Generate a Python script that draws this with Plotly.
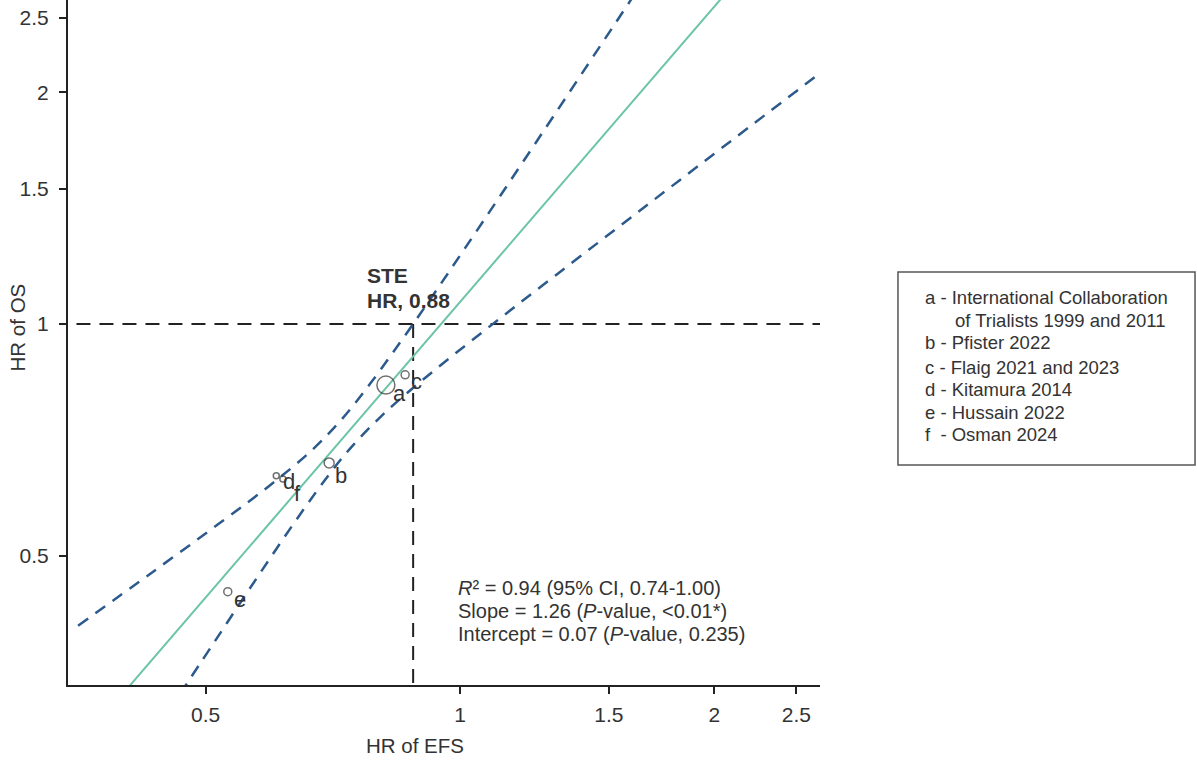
import math
import plotly.graph_objects as go

# ---------------- data ----------------
study_labels = ["a", "b", "c", "d", "e", "f"]
study_names = [
    "International Collaboration",
    "Pfister 2022",
    "Flaig 2021 and 2023",
    "Kitamura 2014",
    "Hussain 2022",
    "Osman 2024",
]
study_names_cont = "of Trialists 1999 and 2011"
hr_efs = [0.817, 0.700, 0.861, 0.606, 0.531, 0.617]
hr_os = [0.833, 0.660, 0.859, 0.635, 0.449, 0.629]

# fitted regression line (two read end points)
fit_efs = [0.400, 2.060]
fit_os = [0.332, 2.685]

# 95% prediction band curves
upper_efs = [0.3531, 0.4296, 0.520, 0.5959, 0.6645, 0.7211, 0.7825, 0.8798, 1.0082, 1.2436, 1.5892, 1.6331]
upper_os = [0.4056, 0.4735, 0.5517, 0.6175, 0.6822, 0.7478, 0.8362, 1.000, 1.2439, 1.7535, 2.6272, 2.7476]
lower_efs = [0.4662, 0.520, 0.5798, 0.6466, 0.7017, 0.7410, 0.8041, 0.8967, 1.0852, 1.4645, 1.9232, 2.6455]
lower_os = [0.3307, 0.3964, 0.4746, 0.5657, 0.6399, 0.6889, 0.7565, 0.8405, 0.9937, 1.2813, 1.6112, 2.1044]

ste_hr = 0.88
null_hr = 1.0

tick_vals = [0.5, 1, 1.5, 2, 2.5]
tick_text = ["0.5", "1", "1.5", "2", "2.5"]

stats_lines = [
    "<i>R</i>² = 0.94 (95% CI, 0.74-1.00)",
    "Slope = 1.26 (<i>P</i>-value, <0.01*)",
    "Intercept = 0.07 (<i>P</i>-value, 0.235)",
]

# ---------------- styles ----------------
marker_sizes = [18, 10, 8, 6, 8, 6]
label_shift = [(14, -8), (12, -13), (11, -7), (13, -6), (12, -8), (15, -14)]
FONT = "Liberation Sans, Arial, sans-serif"
TXT = "#333333"
BLUE = "#2c5a8c"
GREEN = "#6cc4a6"

fig = go.Figure()

# reference lines (HR = 1 horizontal, STE vertical)
fig.add_trace(go.Scatter(x=[0.2, 4.0], y=[null_hr, null_hr], mode="lines",
                         line=dict(color="#222222", width=2, dash="14px,9px"),
                         hoverinfo="skip", showlegend=False))
fig.add_trace(go.Scatter(x=[ste_hr, ste_hr], y=[null_hr, 0.2], mode="lines",
                         line=dict(color="#222222", width=2, dash="14px,9px"),
                         hoverinfo="skip", showlegend=False))

# prediction band
fig.add_trace(go.Scatter(x=upper_efs, y=upper_os, mode="lines", line_shape="spline",
                         line=dict(color=BLUE, width=2.5, dash="12px,9px"),
                         hoverinfo="skip", showlegend=False))
fig.add_trace(go.Scatter(x=lower_efs, y=lower_os, mode="lines", line_shape="spline",
                         line=dict(color=BLUE, width=2.5, dash="12px,9px"),
                         hoverinfo="skip", showlegend=False))

# regression line
fig.add_trace(go.Scatter(x=fit_efs, y=fit_os, mode="lines",
                         line=dict(color=GREEN, width=2),
                         hoverinfo="skip", showlegend=False))

# study points
fig.add_trace(go.Scatter(x=hr_efs, y=hr_os, mode="markers",
                         marker=dict(symbol="circle-open", size=marker_sizes,
                                     color="#333333", line=dict(width=1.5, color="#333333")),
                         text=study_labels, showlegend=False))

annotations = []
for lab, xv, yv, (dx, dy) in zip(study_labels, hr_efs, hr_os, label_shift):
    annotations.append(dict(x=math.log10(xv), y=math.log10(yv), xref="x", yref="y",
                            xanchor="center", yanchor="middle",
                            text=lab, showarrow=False, xshift=dx, yshift=dy,
                            font=dict(family=FONT, size=22, color=TXT)))

# STE text
annotations.append(dict(x=0.3956, y=0.5971, xref="paper", yref="paper", xanchor="left",
                        yanchor="middle", text="<b>STE</b>", showarrow=False,
                        font=dict(family=FONT, size=21, color=TXT)))
annotations.append(dict(x=0.3956, y=0.5606, xref="paper", yref="paper", xanchor="left",
                        yanchor="middle", text=f"<b>HR, {ste_hr:.2f}</b>", showarrow=False,
                        font=dict(family=FONT, size=21, color=TXT)))

# statistics text
for line, yp in zip(stats_lines, [0.1416, 0.1080, 0.0744]):
    annotations.append(dict(x=0.5160, y=yp, xref="paper", yref="paper", xanchor="left",
                            yanchor="middle", text=line, showarrow=False,
                            font=dict(family=FONT, size=20, color=TXT)))

# legend box text
leg_y = [0.5664, 0.5328, 0.4993, 0.4642, 0.4321, 0.3985, 0.3650]
leg_lines = [f"{study_labels[0]} - {study_names[0]}"]
leg_x = [1.137]
leg_lines.append(study_names_cont)
leg_x.append(1.1769)
for lab, name in zip(study_labels[1:], study_names[1:]):
    sep = "  - " if lab == "f" else " - "
    leg_lines.append(f"{lab}{sep}{name}")
    leg_x.append(1.137)
for txt, xp, yp in zip(leg_lines, leg_x, leg_y):
    annotations.append(dict(x=xp, y=yp, xref="paper", yref="paper", xanchor="left",
                            yanchor="middle", text=txt, showarrow=False,
                            font=dict(family=FONT, size=18.5, color=TXT)))

# axis titles
annotations.append(dict(x=0.4614, y=-0.0876, xref="paper", yref="paper",
                        xanchor="center", yanchor="middle",
                        text="HR of EFS", showarrow=False,
                        font=dict(family=FONT, size=20.5, color=TXT)))
annotations.append(dict(x=-0.0678, y=0.5220, xref="paper", yref="paper",
                        xanchor="center", yanchor="middle",
                        text="HR of OS", showarrow=False, textangle=-90,
                        font=dict(family=FONT, size=20.5, color=TXT)))

shapes = [dict(type="rect", xref="paper", yref="paper", x0=1.1037, x1=1.4987,
               y0=0.3212, y1=0.6029, line=dict(color="#555555", width=1.5))]

axis_common = dict(type="log", showgrid=False, zeroline=False, showline=True,
                   automargin=False,
                   linecolor="#222222", linewidth=2, ticks="outside", ticklen=7,
                   tickwidth=1.5, tickcolor="#222222", tickvals=tick_vals,
                   ticktext=tick_text, tickfont=dict(family=FONT, size=21, color=TXT))

fig.update_layout(
    width=1197, height=761,
    margin=dict(l=68, r=377, t=0, b=76),
    plot_bgcolor="white", paper_bgcolor="white",
    xaxis=dict(range=[-0.464, 0.426], ticklabelstandoff=3, **axis_common),
    yaxis=dict(range=[-0.469, 0.421], ticklabelstandoff=6, **axis_common),
    annotations=annotations, shapes=shapes,
    showlegend=False,
)

fig.write_html("out.html", config={"displayModeBar": False},
               post_script="document.body.style.margin='0';document.body.style.overflow='hidden';")
